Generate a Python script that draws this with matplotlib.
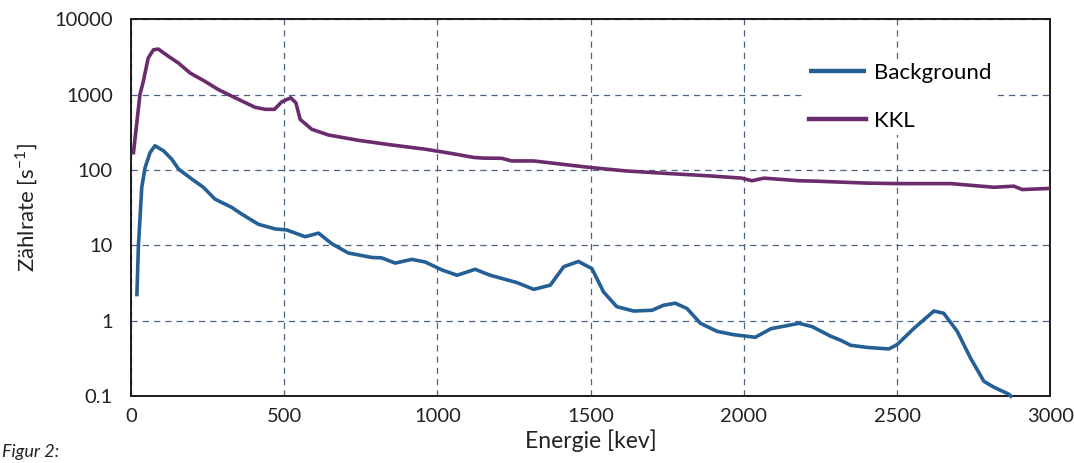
import matplotlib.pyplot as plt

# Werte
bg_energie = [19, 24, 35, 46, 62, 78, 106, 133, 155, 198, 236, 274, 328, 361, 416, 470, 508,
              568, 612, 655, 709, 785, 818, 862, 916, 960, 1015, 1064, 1123, 1172, 1259, 1314,
              1368, 1412, 1460, 1504, 1542, 1585, 1640, 1700, 1738, 1776, 1814, 1858, 1912,
              1966, 2037, 2088, 2180, 2223, 2283, 2315, 2348, 2402, 2473, 2500, 2555, 2620,
              2652, 2696, 2739, 2783, 2816, 2865, 2875]
bg_rate = [2.1, 9.6, 59, 108, 170, 210, 180, 139, 103, 76, 59, 41, 32, 26, 19, 16.5, 16,
           13, 14.5, 10.5, 7.9, 6.9, 6.8, 5.8, 6.5, 6.0, 4.7, 4.0, 4.8, 4.0, 3.2, 2.6,
           2.95, 5.2, 6.1, 4.9, 2.4, 1.53, 1.34, 1.37, 1.6, 1.7, 1.45, 0.92, 0.72,
           0.65, 0.6, 0.78, 0.92, 0.83, 0.62, 0.55, 0.47, 0.44, 0.42, 0.48, 0.79, 1.34,
           1.25, 0.72, 0.32, 0.156, 0.13, 0.105, 0.095]

kkl_energie = [8, 29, 40, 56, 73, 89, 122, 155, 193, 242, 285, 340, 405, 438, 468, 492, 521,
               538, 552, 590, 644, 742, 851, 960, 1042, 1118, 1150, 1210, 1242, 1314, 1401,
               1499, 1618, 1749, 1879, 1993, 2026, 2065, 2180, 2239, 2402, 2500, 2674, 2816,
               2881, 2908, 3000]
kkl_rate = [170, 1000, 1500, 3070, 3950, 4040, 3240, 2630, 1940, 1500, 1170, 910, 680, 640,
            640, 805, 910, 780, 470, 347, 292, 248, 215, 189, 167, 147, 144, 143, 132, 132,
            120, 108, 97, 90, 84, 78, 72, 78, 72, 71, 67, 66, 66, 59, 61, 55, 57]

y_ticks = [0.1, 1, 10, 100, 1000, 10000]
y_labels = ['0.1', '1', '10', '100', '1000', '10000']
x_ticks = [0, 500, 1000, 1500, 2000, 2500, 3000]

plt.rcParams['font.family'] = ['Lato', 'DejaVu Sans']
plt.rcParams['mathtext.fontset'] = 'custom'
plt.rcParams['mathtext.rm'] = 'Lato'

fig = plt.figure(figsize=(10.74, 4.63), dpi=100)
ax = fig.add_axes([0.122, 0.145, 0.856, 0.813])

ax.plot(bg_energie, bg_rate, color='#245f96', lw=2.6, label='Background', clip_on=False,
        solid_capstyle='butt', zorder=3)
ax.plot(kkl_energie, kkl_rate, color='#6a2c6c', lw=2.6, label='KKL', zorder=3)

ax.set_yscale('log')
ax.set_xlim(0, 3000)
ax.set_ylim(0.1, 10000)
ax.set_yticks(y_ticks)
ax.set_yticklabels(y_labels)
ax.minorticks_off()
ax.set_xticks(x_ticks)
ax.tick_params(length=0, labelsize=14.5, colors='#222222')
ax.tick_params(axis='y', pad=13)
ax.tick_params(axis='x', pad=9)

ax.grid(True, which='major', ls=(0, (5, 4)), color='#4d6385', lw=0.9)
for s in ax.spines.values():
    s.set_linewidth(1.4)
    s.set_color('#1a1a1a')

ax.set_xlabel('Energie [kev]', fontsize=16.5, color='#222222', labelpad=3)
ax.set_ylabel('Zählrate [s$^{\\mathregular{-1}}$]', fontsize=16, color='#222222', labelpad=10)

leg = ax.legend(loc='upper left', bbox_to_anchor=(0.72, 0.925), fontsize=16,
                handlelength=2.6, handletextpad=0.35, labelspacing=1.25,
                frameon=True, edgecolor='none', facecolor='white', framealpha=1,
                borderpad=0.2)
for line in leg.get_lines():
    line.set_linewidth(3.2)

fig.text(0.002, 0.012, 'Figur 2:', fontsize=13, style='italic', color='#222222')

fig.savefig('out.png', dpi=100)
